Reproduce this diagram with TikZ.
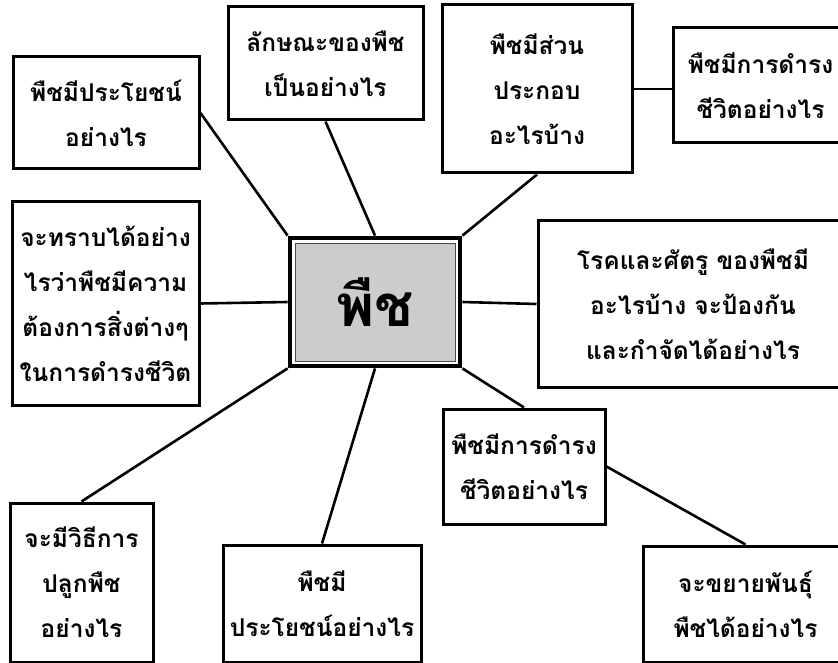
\documentclass[tikz,border=0pt]{standalone}
\usepackage{fontspec}
\newfontfamily\thaifont[Script=Thai]{Loma}
\usetikzlibrary{positioning, fit}
\definecolor{plantgray}{gray}{0.8}
\tikzstyle{box} = [draw, line width=3pt, fill=white, align=center, inner sep=0pt,
    font=\thaifont\bfseries\fontsize{24.5}{45}\selectfont]
\tikzstyle{link} = [line width=2.6pt]

\begin{document}
\begin{tikzpicture}[x=1pt, y=-1pt]
    \useasboundingbox (0,0) rectangle (838,663);
    \clip (0,0) rectangle (838,663);

    % centre of the map
    \node[fill=plantgray, draw=gray!60!black, line width=0.8pt, minimum width=160pt, minimum height=118pt,
        font=\thaifont\bfseries\fontsize{58}{60}\selectfont] (plantin) at (375,302) {พืช};
    \node[draw, line width=4pt, fit=(plantin), inner sep=5pt] (plant) {};

    % questions round it
    \node[box, minimum width=186pt, minimum height=112pt] (use) at (106,113) {พืชมีประโยชน์\\อย่างไร};
    \node[box, minimum width=195pt, minimum height=113pt] (look) at (325.5,63.5) {ลักษณะของพืช\\เป็นอย่างไร};
    \node[box, minimum width=190pt, minimum height=168pt] (parts) at (537,89) {พืชมีส่วน\\ประกอบ\\อะไรบ้าง};
    \node[box, minimum width=175pt, minimum height=115pt] (liveA) at (760.5,85.5) {พืชมีการดำรง\\ชีวิตอย่างไร};
    \node[box, minimum width=187pt, minimum height=203pt] (needs) at (105.5,303.5) {จะทราบได้อย่าง\\ไรว่าพืชมีความ\\ต้องการสิ่งต่างๆ\\ในการดำรงชีวิต};
    \node[box, minimum width=310pt, minimum height=166pt] (pests) at (693,304) {โรคและศัตรู ของพืชมี\\อะไรบ้าง จะป้องกัน\\และกำจัดได้อย่างไร};
    \node[box, minimum width=162pt, minimum height=115pt] (liveB) at (524,466.5) {พืชมีการดำรง\\ชีวิตอย่างไร};
    \node[box, minimum width=143pt, minimum height=159pt] (grow) at (81.5,582.5) {จะมีวิธีการ\\ปลูกพืช\\อย่างไร};
    \node[box, minimum width=198pt, minimum height=117pt] (useB) at (322,603.5) {พืชมี\\ประโยชน์อย่างไร};
    \node[box, minimum width=205pt, minimum height=116pt] (breed) at (745.5,604) {จะขยายพันธุ์\\พืชได้อย่างไร};

    \draw[link] (use.east) -- (plant.north west);
    \draw[link] (look.south) -- (plant.north);
    \draw[link] (parts.south) -- (plant.north east);
    \draw[link] (parts.east) -- (parts.east -| liveA.west);
    \draw[link] (needs.east) -- (plant.west);
    \draw[link] (plant.east) -- (pests.west);
    \draw[link] (plant.south west) -- (grow.north);
    \draw[link] (plant.south) -- (useB.north);
    \draw[link] (plant.south east) -- (liveB.north);
    \draw[link] (liveB.east) -- (breed.north);
\end{tikzpicture}
\end{document}
